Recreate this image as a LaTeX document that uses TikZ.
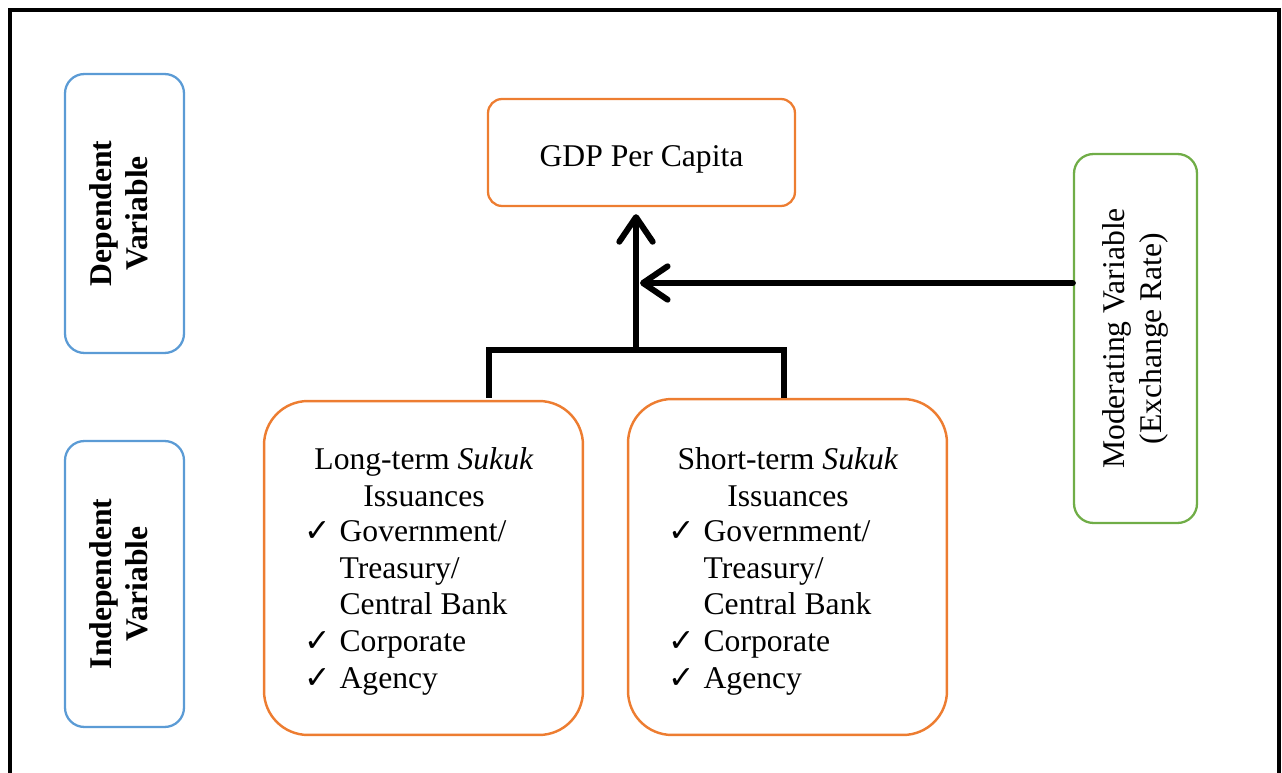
\documentclass[tikz,border=0pt]{standalone}
\usepackage{fontspec}
\setmainfont{Liberation Serif}
\newfontfamily\checkfont{DejaVu Sans}
\usetikzlibrary{arrows.meta}
\usetikzlibrary{calc}

\definecolor{varblue}{RGB}{91,155,213}
\definecolor{varorange}{RGB}{237,125,49}
\definecolor{vargreen}{RGB}{112,173,71}

\newcommand{\tick}{{\checkfont\bfseries ✓}}

\tikzset{
  txt/.style={font=\fontsize{18}{21}\selectfont},
  sidebox/.style={draw=varblue,line width=1.3pt,rounded corners=11pt,rotate=90,
    align=center,text depth=6.8pt,font=\fontsize{18}{21}\selectfont\bfseries},
  sukukbox/.style={draw=varorange,line width=1.4pt,rounded corners=25pt,
    minimum width=6.38cm},
  thick line/.style={line width=3.4pt,line cap=round},
  barb/.style={-{Straight Barb[length=14pt,width=19pt,round]}}
}

\begin{document}
\begin{tikzpicture}[x=0.02cm,y=-0.02cm]
\useasboundingbox (0,0) rectangle (1282,773);
% frame
\draw[line width=2.6pt] (10,800) -- (10,10) -- (1279,10) -- (1279,800);

% left labels
\node[sidebox,minimum width=5.58cm,minimum height=2.38cm] (dep) at (124.5,213.5) {Dependent\\Variable};
\node[sidebox,minimum width=5.72cm,minimum height=2.38cm] (indep) at (124.5,584) {Independent\\Variable};

% dependent
\node[txt,draw=varorange,line width=1.3pt,rounded corners=8pt,text height=15.4pt,text depth=0pt,
  minimum width=6.14cm,minimum height=2.14cm] (gdp) at (641.5,152.5) {GDP Per Capita};

% moderating
\node[txt,draw=vargreen,line width=1.3pt,rounded corners=11pt,rotate=90,align=center,
  minimum width=7.38cm,minimum height=2.46cm] (mod) at (1135.5,338.5) {Moderating Variable\\(Exchange Rate)};

% independent boxes
\node[sukukbox,minimum height=6.68cm] (long) at (423.5,568) {};
\node[sukukbox,minimum height=6.72cm] (short) at (787.5,567) {};

\node[txt,anchor=north,inner sep=0pt] (longtitle) at (424,443)
  {\begin{tabular}{@{}c@{}}Long-term \textit{Sukuk}\\Issuances\end{tabular}};
\node[txt,anchor=north west,inner sep=0pt] (longlist) at (304,515)
  {\begin{tabular}{@{}l@{\hspace{5pt}}l@{}}
  \tick & Government/\\
   & Treasury/\\
   & Central Bank\\
  \tick & Corporate\\
  \tick & Agency
  \end{tabular}};

\node[txt,anchor=north,inner sep=0pt] (shorttitle) at (788,443)
  {\begin{tabular}{@{}c@{}}Short-term \textit{Sukuk}\\Issuances\end{tabular}};
\node[txt,anchor=north west,inner sep=0pt] (shortlist) at (668,515)
  {\begin{tabular}{@{}l@{\hspace{5pt}}l@{}}
  \tick & Government/\\
   & Treasury/\\
   & Central Bank\\
  \tick & Corporate\\
  \tick & Agency
  \end{tabular}};

% connectors
\coordinate (join) at (636,350);
\coordinate (longtop) at (489,398);
\coordinate (shorttop) at (784,398);
\coordinate (hit) at (640,283);
\draw[line width=3.4pt] (longtop) |- (shorttop |- join) -- (shorttop);
\draw[thick line,barb,shorten >=4pt] (join) -- (join |- gdp.south);
\draw[thick line,barb] (mod.north |- hit) -- (hit);
\end{tikzpicture}
\end{document}
